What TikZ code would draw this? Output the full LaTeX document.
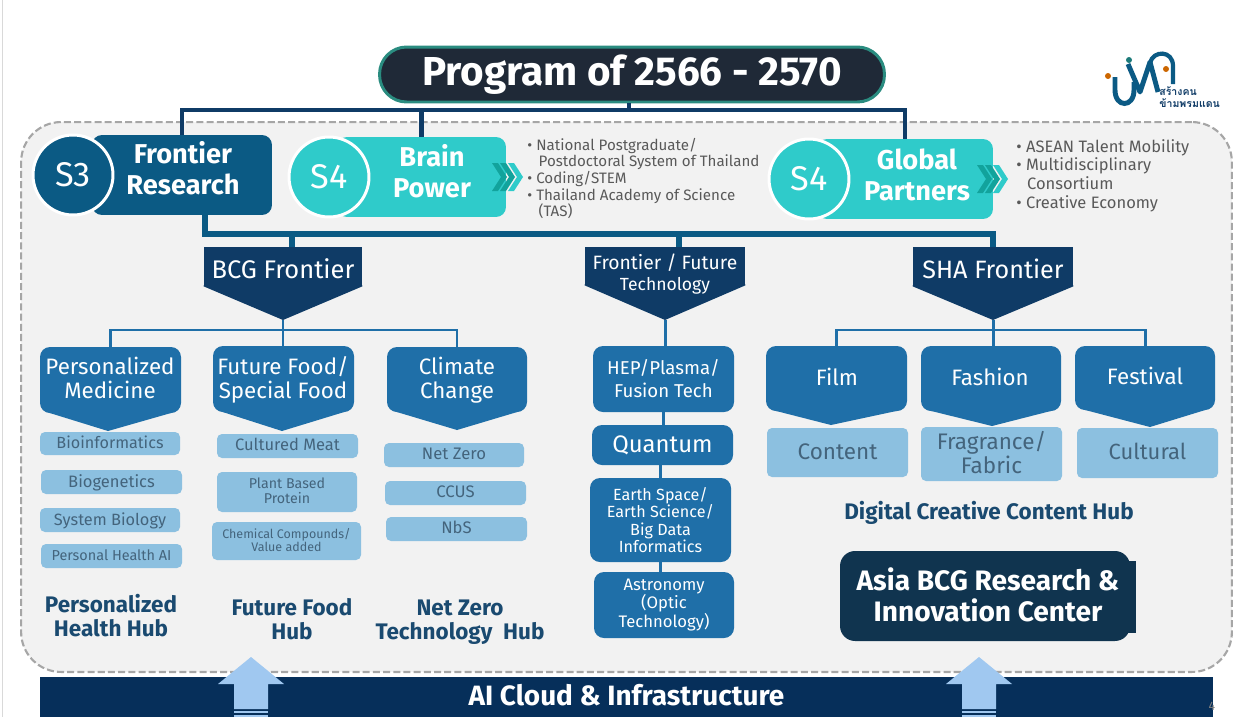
\documentclass[tikz,border=0pt]{standalone}
\usepackage{fontspec}
\setmainfont{Fira Sans}
\newfontfamily\thaifont[Script=Thai]{Loma}
\usetikzlibrary{positioning, calc}
\definecolor{navy}{HTML}{0F3B66}
\definecolor{deepblue}{HTML}{0B5A84}
\definecolor{hubblue}{HTML}{1F6FA8}
\definecolor{lightblue}{HTML}{8CC0E0}
\definecolor{lighttext}{HTML}{44647C}
\definecolor{hubtext}{HTML}{1A4A70}
\definecolor{teal}{HTML}{2FCBCA}
\definecolor{chevdark}{HTML}{12A39C}
\definecolor{greytext}{HTML}{595959}
\definecolor{arrowblue}{HTML}{A0C8F0}
\definecolor{titlefill}{HTML}{1F2937}
\definecolor{titleedge}{HTML}{2A8C80}
\definecolor{asiafill}{HTML}{10344F}
\definecolor{cloudfill}{HTML}{062F5A}
\tikzset{
	topbox/.style={shape=rectangle, rounded corners=0.2cm, minimum height=1.6cm},
	toptext/.style={align=center, inner sep=0pt, text=white, font=\fontsize{15.5}{17.6}\selectfont\bfseries},
	badge/.style={shape=circle, draw=white, line width=1.7pt, minimum size=1.6cm, inner sep=0pt, text=white, font=\fontsize{19.5}{22}\selectfont},
	frontier/.style={shape=rectangle, fill=navy, inner sep=0pt},
	hubbox/.style={shape=rectangle, fill=hubblue, rounded corners=0.2cm, inner sep=0pt, align=center, text=white},
	leafbox/.style={shape=rectangle, fill=lightblue, rounded corners=0.1cm, inner sep=0pt, align=center, text=lighttext, text depth=1.5pt},
	hublabel/.style={align=center, inner sep=0pt, text=hubtext, font=\fontsize{12.8}{13.6}\selectfont\bfseries},
	bullets/.style={align=left, anchor=west, inner sep=0pt, text=greytext},
	topline/.style={draw=navy, line width=2.6pt},
	midline/.style={draw=deepblue, line width=3pt},
	hubline/.style={draw=hubblue, line width=1.7pt},
	uparrow/.style={fill=arrowblue},
}
\begin{document}
\begin{tikzpicture}[x=0.02cm, y=-0.02cm]
\useasboundingbox (0, 0) rectangle (1244, 717);
\draw[gray!30, line width=0.8pt] (2.5, 0) -- (2.5, 717);
\node[shape=rectangle, draw=gray!70, fill=gray!10, line width=1.2pt, dash pattern=on 4pt off 1.8pt, rounded corners=0.8cm, minimum width=24.22cm, minimum height=11cm] (Program Frame) at (626.5, 397) {};
\node[shape=rectangle, fill=titlefill, draw=titleedge, line width=1.7pt, rounded corners=0.54cm, minimum width=10.1cm, minimum height=1.1cm, text=white, font=\fontsize{23}{26}\selectfont\bfseries] (Program Title) at (632, 74.5) {Program of 2566 - 2570};
\node[topbox, fill=deepblue, minimum width=3.6cm] (Frontier Box) at (182, 175) {};
\node[topbox, fill=teal, minimum width=3.38cm] (Brain Box) at (421.5, 177) {};
\node[topbox, fill=teal, minimum width=3.52cm] (Global Box) at (905, 179) {};
\foreach \nm/\cx/\cy/\c/\tx in {S3 Badge/73/175/deepblue/S3, Brain Badge/329/177/teal/S4, Global Badge/809/179/teal/S4}
	\node[badge, fill=\c] (\nm) at (\cx, \cy) {\tx};
\foreach \nm/\cx/\cy/\tx in {Frontier Text/183/168/{Frontier\\Research}, Brain Text/432/171.5/{Brain\\Power}, Global Text/917/174.5/{Global\\Partners}}
	\node[toptext] (\nm) at (\cx, \cy) {\tx};
\foreach \cx/\cy in {492/177, 977/179}
	\foreach \d/\c in {0/chevdark, 8/chevdark, 16/teal}
		\fill[\c, shift={({\cx+\d}, \cy)}] (0, -14) -- (6, -14) -- (15, 0) -- (6, 14) -- (0, 14) -- (9, 0) -- cycle;
\node[bullets, font=\fontsize{8.6}{9.4}\selectfont] (Brain List) at (527, 178.5) {• National Postgraduate/\\\hspace{0.75em}Postdoctoral System of Thailand\\• Coding/STEM\\• Thailand Academy of Science\\\hspace{0.75em}(TAS)};
\node[bullets, font=\fontsize{9.4}{10.6}\selectfont] (Global List) at (1016, 175.5) {• ASEAN Talent Mobility\\• Multidisciplinary\\\hspace{0.65em}Consortium\\• Creative Economy};
\coordinate (Top bar) at (629, 110);
\coordinate (Mid bar) at (0, 234);
\draw[topline] (Program Title.south -| Top bar) -- (Top bar);
\draw[topline] (Frontier Box.north) |- (Global Box.north |- Top bar) -- (Global Box.north);
\draw[topline] (Brain Box.north) -- (Brain Box.north |- Top bar);
\foreach \nm/\cx/\cy/\bw/\bh/\tipx/\tipy/\ty/\tx in {BCG Frontier/283/266.5/158/39/283/320/269/{\fontsize{14.5}{17}\selectfont BCG Frontier}, Future Tech/665/266/160/38/665/320/274/{\fontsize{11}{12.5}\selectfont Frontier / Future\\Technology}, SHA Frontier/993/266.5/160/39/993/320/269/{\fontsize{14.3}{17}\selectfont SHA Frontier}} {
	\node[frontier, minimum width=0.02cm*\bw, minimum height=0.02cm*\bh] (\nm) at (\cx, \cy) {};
	\fill[navy] ($(\nm.south west)+(0, -1)$) -- ($(\nm.south west)$) -- (\tipx, \tipy) coordinate (\nm-tip) -- (\nm.south east) -- ($(\nm.south east)+(0, -1)$) -- cycle;
	\node[align=center, inner sep=0pt, text=white] (\nm-text) at (\cx, \ty) {\tx};
}
\draw[midline] ($(Frontier Box.south)+(23, 0)$) |- (Mid bar -| SHA Frontier.north) -- (SHA Frontier.north);
\draw[midline] ($(BCG Frontier.north)+(9, 0)$) -- ($(BCG Frontier.north |- Mid bar)+(9, 0)$);
\draw[midline] ($(Future Tech.north)+(14, 0)$) -- ($(Future Tech.north |- Mid bar)+(14, 0)$);
\foreach \nm/\cx/\cy/\bw/\bh/\tipx/\tipy/\tcx/\tcy/\tx in {
	Medicine Box/110.5/380/141/66/108/431/110/378/{Personalized\\Medicine},
	Food Box/283.5/379/141/66/282/431/283/380/{Future Food/\\Special Food},
	Climate Box/457/379.5/140/65/457/430/457/380/{Climate\\Change},
	Film Box/836.5/378.5/141/65/831/425/837/377/Film,
	Fashion Box/991/378.5/140/65/992/426/990/377/Fashion,
	Festival Box/1145/378/140/64/1150/427/1145/376/Festival} {
	\node[hubbox, minimum width=0.02cm*\bw, minimum height=0.02cm*\bh] (\nm) at (\cx, \cy) {};
	\fill[hubblue] ($(\nm.south west)+(8, -1)$) -- (\tipx, \tipy) coordinate (\nm-tip) -- ($(\nm.south east)+(-8, -1)$) -- cycle;
	\node[align=center, inner sep=0pt, text=white, font=\fontsize{12.7}{13.6}\selectfont] (\nm-text) at (\tcx, \tcy) {\tx};
}
\foreach \nm/\cx/\cy/\bw/\bh/\fs/\ls/\tx in {
	HEP Box/663.5/379/141/66/10.6/13/{HEP/Plasma/\\Fusion Tech},
	Quantum Box/662.5/445/141/40/13.6/15/Quantum,
	Earth Box/660.5/520/141/84/9.2/10/{Earth Space/\\Earth Science/\\Big Data\\Informatics},
	Astronomy Box/664/605/140/66/9.5/10.3/{Astronomy\\(Optic\\Technology)}}
	\node[hubbox, minimum width=0.02cm*\bw, minimum height=0.02cm*\bh, font=\fontsize{\fs}{\ls}\selectfont] (\nm) at (\cx, \cy) {\tx};
\foreach \nm/\cx/\cy/\bw/\bh/\fs/\ls/\tx in {
	Bioinformatics/110/443.5/140/23/9.2/10/Bioinformatics,
	Biogenetics/111.5/482/141/24/9.4/10/Biogenetics,
	System Biology/110/520/140/24/9.3/10/System Biology,
	Personal Health/111.5/556/141/24/8.2/9/Personal Health AI,
	Cultured Meat/287.5/446/141/24/9.4/10/Cultured Meat,
	Plant Protein/287/492/140/40/8.1/9/{Plant Based\\Protein},
	Chemical Value/286.5/541/149/38/7.1/7.6/{Chemical Compounds/\\Value added},
	Net Zero/454/455/140/24/9.5/10/Net Zero,
	CCUS/455.5/493/141/24/9.5/10/CCUS,
	NbS/456.5/529/141/24/9.5/10/NbS,
	Content/837.5/452.5/141/49/12.8/13/Content,
	Fragrance Fabric/991.5/454/141/54/12.8/13.5/{Fragrance/\\Fabric},
	Cultural/1147.5/453/141/50/12.5/13/Cultural}
	\node[leafbox, minimum width=0.02cm*\bw, minimum height=0.02cm*\bh, font=\fontsize{\fs}{\ls}\selectfont] (\nm) at (\cx, \cy) {\tx};
\coordinate (BCG bar) at (283, 330);
\coordinate (SHA bar) at (993, 330);
\draw[hubline] (BCG Frontier-tip) -- (Food Box.north -| BCG Frontier-tip);
\draw[hubline] (Medicine Box.north) |- (BCG bar) -| (Climate Box.north);
\draw[hubline] (SHA Frontier-tip) -- (Fashion Box.north -| SHA Frontier-tip);
\draw[hubline] (Film Box.north) |- (SHA bar) -| (Festival Box.north);
\draw[hubline] (Future Tech-tip) -- (HEP Box.north -| Future Tech-tip);
\draw[hubline] (HEP Box.south) -- (HEP Box.south |- Quantum Box.north);
\draw[hubline] (Earth Box.north) -- (Earth Box.north |- Quantum Box.south);
\draw[hubline] (Earth Box.south) -- (Earth Box.south |- Astronomy Box.north);
\foreach \nm/\cx/\cy/\tx in {Health Hub/111/616/{Personalized\\Health Hub}, Food Hub/292/619/{Future Food\\Hub}, Zero Hub/460/622/{Net Zero\\Technology~~Hub}, Digital Hub/989/512.5/Digital Creative Content Hub}
	\node[hublabel] (\nm) at (\cx, \cy) {\tx};
\fill[asiafill] (1125, 561) rectangle (1136, 633);
\node[shape=rectangle, fill=asiafill, rounded corners=0.3cm, minimum width=5.8cm, minimum height=1.8cm] (Asia Center) at (985, 596) {};
\node[align=center, inner sep=0pt, text=white, font=\fontsize{16}{18}\selectfont\bfseries] (Asia Text) at (988, 595) {Asia BCG Research \&\\Innovation Center};
\node[shape=rectangle, fill=cloudfill, minimum width=23.46cm, minimum height=0.8cm, text=white, text depth=2pt, font=\fontsize{15.9}{18}\selectfont\bfseries] (Cloud Bar) at (626.5, 697) {AI Cloud \& Infrastructure};
\foreach \cx/\nm in {251/Food Arrow, 979/Asia Arrow} {
	\fill[uparrow] (\cx, 657) coordinate (\nm) -- ++(33, 27) -- ++(-16, 0) -- ++(0, 25) -- ++(-34, 0) -- ++(0, -25) -- ++(-16, 0) -- cycle;
	\fill[uparrow] ({\cx-17}, 711) rectangle ({\cx+17}, 713);
	\fill[uparrow] ({\cx-17}, 714.5) rectangle ({\cx+17}, 717);
}
\node[text=gray, inner sep=0pt, font=\fontsize{7}{8}\selectfont] (Page Number) at (1212, 706) {4};
\draw[deepblue, line width=2.8pt] (1115, 77) -- (1115, 90) .. controls (1115, 108) and (1134, 108) .. (1134, 90) -- (1134, 82);
\draw[deepblue, line width=2.8pt, line join=round] (1128, 64) -- (1140, 92) -- (1150, 62) -- (1158, 92);
\draw[deepblue, line width=2.4pt] (1150, 63) .. controls (1153, 50) and (1173, 50) .. (1173, 66) -- (1173, 84);
\fill[orange!80!black] (1108, 76) circle (3);
\fill[teal!60!black] (1129, 60) circle (3);
\fill[orange!80!black] (1166, 69) circle (3);
\node[anchor=west, align=left, inner sep=0pt, text=navy, font=\thaifont\bfseries\fontsize{6}{7}\selectfont] (Logo Text) at (1159, 97) {สร้างคน\\ข้ามพรมแดน};
\end{tikzpicture}
\end{document}
